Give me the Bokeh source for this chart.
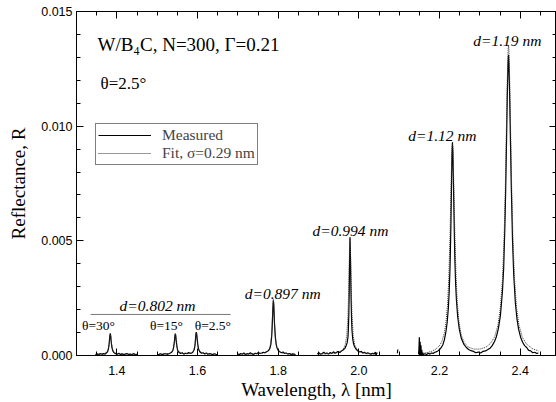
import numpy as np
from bokeh.plotting import figure
from bokeh.models import (Range1d, LinearAxis, SingleIntervalTicker, PrintfTickFormatter,
                          Legend, LegendItem, ColumnDataSource)
from bokeh.core.properties import value
from bokeh.embed import file_html
from bokeh.resources import INLINE

SCALE = 1e-4  # values below are reflectance x 10^4

# ---- measured segments (wavelength nm, R x 1e4) ----
xA = [1.347, 1.351, 1.355, 1.359, 1.363, 1.367, 1.371, 1.374, 1.377, 1.379,
      1.381, 1.382, 1.383, 1.384, 1.385, 1.386, 1.388, 1.390, 1.393, 1.397,
      1.401, 1.405, 1.409, 1.413, 1.417, 1.421, 1.425, 1.429, 1.433, 1.437,
      1.441, 1.445, 1.449, 1.451]
yA = [0.4, 0.7, 0.3, 0.9, 0.5, 0.8, 0.6, 1.1, 1.6, 2.8,
      5.2, 7.4, 9.0, 9.6, 8.2, 6.0, 3.4, 2.0, 1.2, 0.8,
      0.5, 1.0, 0.4, 0.7, 0.3, 0.6, 0.9, 0.4, 0.6, 0.3,
      0.8, 0.5, 0.4, 0.6]

xB = [1.500, 1.504, 1.508, 1.512, 1.516, 1.520, 1.524, 1.528, 1.532, 1.536,
      1.539, 1.541, 1.543, 1.544, 1.545, 1.546, 1.547, 1.549, 1.551, 1.554,
      1.558, 1.562, 1.566, 1.570, 1.574, 1.578, 1.582, 1.586, 1.589, 1.592,
      1.594, 1.595, 1.596, 1.597, 1.598, 1.599, 1.601, 1.603, 1.606, 1.610,
      1.614, 1.618, 1.622, 1.626, 1.630, 1.634, 1.638, 1.642, 1.646, 1.650]
yB = [0.5, 0.3, 0.8, 0.4, 0.6, 0.9, 0.5, 0.7, 1.0, 1.4,
      2.2, 3.8, 6.5, 8.6, 9.5, 8.8, 6.9, 3.9, 2.1, 1.3,
      0.9, 1.2, 0.6, 1.0, 0.8, 1.3, 0.9, 1.1, 1.6, 2.6,
      4.8, 7.2, 9.3, 10.2, 9.4, 7.6, 4.4, 2.6, 1.5, 1.0,
      1.2, 0.7, 1.1, 0.5, 0.9, 0.6, 0.4, 0.8, 0.3, 0.5]

xC = [1.699, 1.703, 1.707, 1.711, 1.715, 1.719, 1.723, 1.727, 1.731, 1.735,
      1.739, 1.743, 1.747, 1.751, 1.755, 1.759, 1.763, 1.767, 1.771, 1.775,
      1.778, 1.780, 1.782, 1.784, 1.785, 1.786, 1.787, 1.788, 1.789, 1.790,
      1.791, 1.793, 1.795, 1.797, 1.800, 1.804, 1.808, 1.812, 1.816, 1.820,
      1.824, 1.828, 1.832, 1.836, 1.840, 1.843]
yC = [0.6, 0.3, 0.9, 0.5, 1.1, 0.4, 0.8, 0.6, 1.2, 0.7,
      0.5, 1.0, 0.8, 1.3, 0.9, 1.1, 1.4, 1.2, 1.6, 2.0,
      2.6, 3.4, 5.0, 8.5, 12.0, 16.5, 21.0, 24.0, 22.5, 18.0,
      13.5, 8.0, 5.0, 3.4, 2.3, 1.6, 1.2, 1.5, 0.9, 1.1,
      0.6, 0.9, 0.4, 0.7, 0.5, 0.3]

xD = [1.897, 1.901, 1.905, 1.909, 1.913, 1.917, 1.921, 1.925, 1.929, 1.933,
      1.937, 1.941, 1.945, 1.949, 1.953, 1.957, 1.961, 1.965, 1.968, 1.971,
      1.973, 1.974, 1.975, 1.976, 1.977, 1.978, 1.979, 1.980, 1.981, 1.982,
      1.983, 1.985, 1.987, 1.990, 1.994, 1.998, 2.002, 2.006, 2.010, 2.014,
      2.018, 2.022, 2.026, 2.030, 2.034, 2.038, 2.041, 2.043, 2.044, 2.046]
yD = [0.7, 1.2, 0.5, 0.9, 1.4, 0.8, 1.1, 0.6, 1.3, 0.9,
      1.6, 1.0, 1.4, 1.8, 1.3, 2.0, 2.4, 3.0, 4.0, 5.6,
      8.0, 11.5, 17.0, 26.0, 40.0, 51.5, 45.0, 33.0, 23.0, 15.5,
      11.0, 7.0, 5.0, 3.6, 2.6, 1.9, 1.5, 1.8, 1.1, 1.4,
      0.8, 1.2, 0.9, 0.6, 1.0, 0.7, 1.5, -0.3, 1.2, 0.8]

xI = [2.0955, 2.0965]
yI = [1.0, 2.6]

xE = [2.148, 2.149, 2.150, 2.151, 2.152, 2.153, 2.154, 2.155, 2.156, 2.157,
      2.158, 2.160, 2.164, 2.168, 2.172, 2.176, 2.180, 2.184, 2.188, 2.192,
      2.196, 2.200, 2.204, 2.208, 2.212, 2.216, 2.219, 2.222, 2.224, 2.226,
      2.228, 2.229, 2.230, 2.231, 2.232, 2.233, 2.234, 2.235, 2.236, 2.238,
      2.240, 2.242, 2.245, 2.249, 2.254, 2.260, 2.266, 2.272, 2.278, 2.284,
      2.290, 2.296, 2.302, 2.308, 2.314, 2.320, 2.326, 2.331, 2.336, 2.341,
      2.346, 2.351, 2.356, 2.359, 2.362, 2.364, 2.366, 2.368, 2.369, 2.370,
      2.371, 2.372, 2.373, 2.374, 2.376, 2.378, 2.381, 2.384, 2.388, 2.392,
      2.396, 2.401, 2.406, 2.411, 2.416, 2.421, 2.426, 2.431, 2.436, 2.441,
      2.445]
yE = [0.5, 3.0, 7.9, -1.5, 6.0, -2.0, 4.5, -1.0, 2.5, 0.2,
      1.2, 0.4, 0.8, 0.4, 1.0, 0.6, 1.1, 0.9, 1.4, 1.6,
      2.0, 2.6, 3.4, 4.6, 6.8, 10.5, 14.5, 21.0, 28.0, 38.0,
      55.0, 66.0, 78.0, 88.0, 93.0, 89.0, 80.0, 70.0, 60.0, 42.0,
      31.0, 24.0, 17.0, 11.5, 7.5, 5.0, 3.6, 2.6, 2.1, 1.8,
      1.2, 1.5, 1.1, 1.8, 2.0, 2.6, 3.3, 4.4, 6.0, 8.2,
      11.8, 17.5, 28.0, 38.0, 56.0, 72.0, 92.0, 113.0, 121.0, 128.0,
      131.0, 127.0, 120.0, 112.0, 92.0, 73.0, 50.0, 35.0, 23.0, 16.0,
      11.5, 8.0, 5.8, 4.3, 3.5, 2.2, 2.0, 1.2, 1.4, 0.9,
      1.1]

# ---- fit curves (R x 1e4) ----
xFA = [1.348, 1.370, 1.378, 1.381, 1.383, 1.384, 1.385, 1.387, 1.390, 1.398, 1.420, 1.450]
yFA = [0.5, 0.9, 2.2, 4.8, 8.2, 9.5, 8.2, 4.8, 2.2, 0.9, 0.6, 0.5]
xFB = [1.500, 1.530, 1.539, 1.542, 1.544, 1.545, 1.546, 1.548, 1.551, 1.560, 1.575,
       1.585, 1.591, 1.594, 1.596, 1.597, 1.598, 1.600, 1.603, 1.612, 1.630, 1.650]
yFB = [0.5, 0.9, 2.2, 4.8, 8.2, 9.5, 8.2, 4.8, 2.2, 1.0, 0.9,
       1.1, 2.4, 5.2, 8.8, 10.0, 8.8, 5.2, 2.4, 1.0, 0.6, 0.5]
xFC = [1.700, 1.740, 1.760, 1.770, 1.776, 1.780, 1.783, 1.785, 1.786, 1.787, 1.788,
       1.789, 1.790, 1.791, 1.793, 1.796, 1.800, 1.806, 1.816, 1.830, 1.843]
yFC = [0.6, 0.7, 0.9, 1.3, 2.2, 3.9, 7.6, 13.4, 17.9, 22.5, 24.6,
       22.5, 17.9, 13.4, 7.6, 3.9, 2.2, 1.3, 0.9, 0.7, 0.6]
xFD = [1.900, 1.930, 1.950, 1.960, 1.966, 1.970, 1.973, 1.975, 1.976, 1.977, 1.978,
       1.979, 1.980, 1.981, 1.983, 1.986, 1.990, 1.996, 2.006, 2.025, 2.045]
yFD = [0.6, 0.8, 1.3, 2.4, 4.5, 8.7, 17.3, 29.9, 38.9, 47.7, 51.5,
       47.7, 38.9, 29.9, 17.3, 8.7, 4.5, 2.4, 1.3, 0.7, 0.6]
xFE = [2.160, 2.170, 2.180, 2.190, 2.200, 2.206, 2.212, 2.216, 2.220, 2.223,
       2.226, 2.228, 2.230, 2.231, 2.232, 2.233, 2.234, 2.236, 2.238, 2.241,
       2.244, 2.248, 2.254, 2.262, 2.272, 2.285, 2.300, 2.315, 2.327, 2.337,
       2.345, 2.351, 2.356, 2.360, 2.363, 2.366, 2.368, 2.370, 2.371, 2.372,
       2.374, 2.376, 2.379, 2.382, 2.386, 2.391, 2.397, 2.405, 2.415, 2.430,
       2.445]
yFE = [1.0, 1.3, 1.8, 2.7, 4.3, 6.2, 9.9, 14.5, 22.8, 33.8,
       52.1, 68.7, 85.1, 90.5, 92.4, 90.9, 85.2, 68.9, 52.3, 34.0,
       23.1, 14.8, 8.8, 5.4, 3.6, 2.8, 2.8, 3.6, 5.4, 8.3,
       13.4, 21.0, 33.1, 50.8, 71.9, 100.6, 120.3, 133.5, 135.3, 133.5,
       120.3, 100.6, 71.9, 50.8, 33.0, 20.8, 13.2, 8.1, 5.1, 3.0,
       2.0]

measured = [(xA, yA), (xB, yB), (xC, yC), (xD, yD), (xI, yI), (xE, yE)]
fits = [(xFA, yFA), (xFB, yFB), (xFC, yFC), (xFD, yFD), (xFE, yFE)]

# ---- annotations ----
d_labels = ["d=0.802 nm", "d=0.897 nm", "d=0.994 nm", "d=1.12 nm", "d=1.19 nm"]
d_x = [1.501, 1.811, 1.979, 2.207, 2.368]
d_y = [0.00218, 0.00270, 0.00545, 0.00959, 0.01374]
th_labels = ["θ=30°", "θ=15°", "θ=2.5°"]
th_x = [1.3545, 1.523, 1.638]
th_y = [0.00131, 0.00131, 0.00131]
info_labels = ["W/B₄C, N=300, Γ=0.21", "θ=2.5°"]
info_x = [1.352, 1.3595]
info_y = [0.01356, 0.01186]
info_sizes = ["19px", "17px"]
bracket_x = [1.335, 1.682]
bracket_y = [0.00179, 0.00179]

SERIF = "Liberation Serif"
SANS = "Liberation Sans"

p = figure(width=556, height=402, output_backend="svg", toolbar_location=None,
           x_range=Range1d(1.3, 2.49), y_range=Range1d(0, 0.015),
           min_border_left=76, min_border_right=0, min_border_top=11, min_border_bottom=47)
p.grid.visible = False
p.outline_line_color = "black"
p.background_fill_color = "white"
p.border_fill_color = "white"

xt = SingleIntervalTicker(interval=0.2, num_minor_ticks=4)
yt = SingleIntervalTicker(interval=0.005, num_minor_ticks=5)

def style_axis(ax, labels=True):
    ax.axis_line_color = "black"
    ax.major_tick_line_color = "black"
    ax.minor_tick_line_color = "black"
    ax.major_tick_in = 7
    ax.major_tick_out = 0
    ax.minor_tick_in = 4
    ax.minor_tick_out = 0
    if labels:
        ax.major_label_text_font = SANS
        ax.major_label_text_font_size = "12.5px"
        ax.major_label_text_color = "black"
        ax.axis_label_text_font = SERIF
        ax.axis_label_text_font_size = "19px"
        ax.axis_label_text_font_style = "normal"
        ax.axis_label_text_color = "black"
    else:
        ax.major_label_text_color = None
        ax.major_label_standoff = 0

p.xaxis.ticker = xt
p.xaxis.formatter = PrintfTickFormatter(format="%.1f")
p.xaxis.axis_label = "Wavelength, λ [nm]"
style_axis(p.xaxis[0])
p.xaxis.major_label_standoff = 10
p.xaxis.axis_label_standoff = 1

p.yaxis.ticker = yt
p.yaxis.formatter = PrintfTickFormatter(format="%.3f")
p.yaxis.axis_label = "Reflectance, R"
style_axis(p.yaxis[0])
p.yaxis.major_label_standoff = 4
p.yaxis.axis_label_standoff = 9

top = LinearAxis(ticker=SingleIntervalTicker(interval=0.2, num_minor_ticks=4))
style_axis(top, labels=False)
p.add_layout(top, "above")
right = LinearAxis(ticker=SingleIntervalTicker(interval=0.005, num_minor_ticks=5))
style_axis(right, labels=False)
p.add_layout(right, "right")

meas_r = []
for xs, ys in measured:
    r = p.line(xs, list(np.array(ys) * SCALE), line_color="black", line_width=1.2)
    meas_r.append(r)
fit_r = []
for xs, ys in fits:
    r = p.line(xs, list(np.array(ys) * SCALE), line_color="#333333", line_width=1,
               line_dash="1 1")
    fit_r.append(r)

p.line(bracket_x, bracket_y, line_color="#777777", line_width=1)

p.text(x=d_x, y=d_y, text=d_labels, text_font=value(SERIF), text_font_size="15.5px",
       text_font_style="italic", text_align="center", text_baseline="middle", text_color="black")
p.text(x=th_x, y=th_y, text=th_labels, text_font=value(SERIF), text_font_size="13.5px",
       text_align="center", text_baseline="middle", text_color="black")
src = ColumnDataSource(dict(x=info_x, y=info_y, t=info_labels, s=info_sizes))
p.text(x="x", y="y", text="t", source=src, text_font=value(SERIF), text_font_size="s",
       text_align="left", text_baseline="middle", text_color="black")

legend = Legend(items=[LegendItem(label="Measured", renderers=[meas_r[0]]),
                       LegendItem(label="Fit, σ=0.29 nm", renderers=[fit_r[0]])],
                location=(19, 190), margin=0, padding=2, spacing=0,
                glyph_height=12, label_height=12, glyph_width=53, label_standoff=11,
                label_text_font=SERIF, label_text_font_size="15.5px",
                border_line_color="black", border_line_width=1,
                background_fill_color="white", background_fill_alpha=1)
p.add_layout(legend)

open("out.html", "w").write(file_html(p, INLINE))
